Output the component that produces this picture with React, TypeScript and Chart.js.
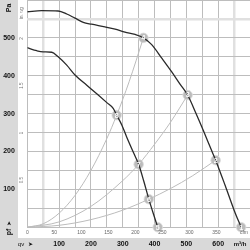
import React, { useEffect, useRef } from "react";
import { Chart, registerables } from "chart.js";
Chart.register(...registerables);

// Axis tick labels
const qTicks = [100, 200, 300, 400, 500, 600]; // m³/h
const paTicks = [100, 200, 300, 400, 500]; // Pa
const cfmTicks = [0, 50, 100, 150, 200, 250, 300, 350]; // cfm
const inwgTicks = [0.5, 1, 1.5, 2]; // in. wg
const CFM_TO_M3H = 1.699;
const INWG_TO_PA = 249.09;

// Fan curves (qv m³/h, pf Pa)
const curve1Q = [0, 45, 97, 124, 150, 176, 202, 244, 276, 307, 339, 365, 391, 422, 454, 480, 504, 530, 553, 580, 592, 622, 650, 672];
const curve1P = [569, 572, 571, 563, 552, 541, 536, 529, 523, 515, 509, 500, 482, 447, 410, 378, 349, 301, 256, 201, 177, 110, 45, 0];
const curve2Q = [0, 30, 50, 77, 97, 124, 150, 187, 223, 250, 270, 281, 297, 312, 328, 344, 350, 366, 382, 396, 410];
const curve2P = [474, 466, 463, 462, 450, 428, 402, 375, 349, 329, 314, 296, 270, 239, 208, 178, 166, 122, 74, 36, 0];

// System (resistance) curves
const sysAQ = [0, 50, 100, 150, 200, 250, 281, 320, 365];
const sysAP = [0, 9, 37, 84, 150, 234, 296, 384, 500];
const sysBQ = [0, 100, 200, 300, 350, 400, 450, 504];
const sysBP = [0, 14, 55, 123, 166, 219, 277, 349];
const sysCQ = [0, 100, 200, 300, 382, 450, 520, 592];
const sysCP = [0, 5, 20, 45, 74, 102, 136, 177];

// Operating points
const markerLabels = ["1", "2", "3", "4", "5", "6", "7", "8"];
const markerQ = [672, 592, 504, 365, 410, 382, 350, 281];
const markerP = [0, 177, 349, 500, 0, 74, 166, 296];

const FONT = "'Liberation Sans', Arial, Helvetica, sans-serif";

const pts = (q: number[], p: number[]) => q.map((v, i) => ({ x: v, y: p[i] }));

const decor = {
  id: "decor",
  beforeDraw(chart: any) {
    const ctx = chart.ctx;
    ctx.save();
    ctx.fillStyle = "#ffffff";
    ctx.fillRect(0, 0, chart.width, chart.height);
    ctx.fillStyle = "#d9d9d9";
    ctx.fillRect(0, 0, 18, 238);
    ctx.fillRect(0, 238, chart.width, chart.height - 238);
    ctx.restore();
  },
  afterDraw(chart: any) {
    const ctx = chart.ctx;
    const xs = chart.scales.x;
    const ys = chart.scales.y;
    ctx.save();
    ctx.textAlign = "center";
    ctx.textBaseline = "middle";
    // left band
    ctx.fillStyle = "#111";
    ctx.font = `bold 7px ${FONT}`;
    paTicks.forEach((v) => ctx.fillText(String(v), 9, ys.getPixelForValue(v)));
    const rot = (t: string, x: number, y: number, font: string, color: string) => {
      ctx.save();
      ctx.translate(x, y);
      ctx.rotate(-Math.PI / 2);
      ctx.font = font;
      ctx.fillStyle = color;
      ctx.fillText(t, 0, 0);
      ctx.restore();
    };
    rot("Pa", 9, 8, `bold 7px ${FONT}`, "#111");
    rot("pf", 9, 232, `bold 7px ${FONT}`, "#111");
    rot("➤", 9, 223, `6px ${FONT}`, "#111");
    // in. wg
    rot("in. wg", 22, 13, `4.5px ${FONT}`, "#777");
    inwgTicks.forEach((v) => rot(String(v), 22, ys.getPixelForValue(v * INWG_TO_PA), `4.5px ${FONT}`, "#777"));
    // cfm
    ctx.font = `5px ${FONT}`;
    ctx.fillStyle = "#666";
    cfmTicks.forEach((v) => ctx.fillText(String(v), xs.getPixelForValue(v * CFM_TO_M3H), 233));
    ctx.fillText("cfm", 244, 233);
    // bottom band
    ctx.fillStyle = "#111";
    ctx.font = `bold 7px ${FONT}`;
    qTicks.forEach((v) => ctx.fillText(String(v), xs.getPixelForValue(v), 244));
    ctx.font = `bold 6px ${FONT}`;
    ctx.fillText("m³/h", 240, 244);
    ctx.font = `6px ${FONT}`;
    ctx.fillText("qv", 21, 244);
    ctx.fillText("➤", 30, 244);
    // marker labels
    ctx.fillStyle = "#ffffff";
    ctx.font = `bold 7px ${FONT}`;
    markerLabels.forEach((t, i) => {
      ctx.fillText(t, xs.getPixelForValue(markerQ[i]), ys.getPixelForValue(markerP[i]) + 0.5);
    });
    ctx.restore();
  },
};

export default function App() {
  const ref = useRef<HTMLCanvasElement>(null);
  useEffect(() => {
    document.body.style.margin = "0";
    const lineDs = (q: number[], p: number[], color: string, w: number) => ({
      type: "line" as const,
      data: pts(q, p),
      borderColor: color,
      borderWidth: w,
      pointRadius: 0,
      cubicInterpolationMode: "monotone" as const,
      fill: false,
    });
    const chart = new Chart(ref.current!, {
      type: "line",
      data: {
        datasets: [
          lineDs(sysAQ, sysAP, "#bcbcbc", 1),
          lineDs(sysBQ, sysBP, "#bcbcbc", 1),
          lineDs(sysCQ, sysCP, "#bcbcbc", 1),
          lineDs(curve1Q, curve1P, "#2a2a2a", 1.3),
          lineDs(curve2Q, curve2P, "#2a2a2a", 1.3),
          {
            type: "scatter" as const,
            data: pts(markerQ, markerP),
            pointRadius: 4.8,
            pointBackgroundColor: "#bcbcbc",
            pointBorderColor: "#dedede",
            pointBorderWidth: 0.8,
            clip: false as any,
          } as any,
        ],
      },
      options: {
        responsive: false,
        devicePixelRatio: 1,
        animation: false,
        events: [],
        layout: { autoPadding: false, padding: { left: 27.3, right: 0, top: 0, bottom: 22.8 } },
        plugins: { legend: { display: false }, tooltip: { enabled: false } },
        scales: {
          x: {
            type: "linear",
            min: 0,
            max: 700,
            ticks: { display: false, stepSize: 50 },
            grid: {
              drawTicks: false,
              color: (c: any) => (c.tick && (c.tick.value === 50 || c.tick.value === 650) ? "#e0e0e0" : "#bdbdbd"),
              lineWidth: (c: any) => (c.tick && (c.tick.value === 50 || c.tick.value === 650) ? 2.5 : 1),
            },
            border: { display: false },
          },
          y: {
            type: "linear",
            min: 0,
            max: 600,
            ticks: { display: false, stepSize: 50 },
            grid: {
              drawTicks: false,
              color: (c: any) => (c.tick && c.tick.value === 550 ? "#e0e0e0" : "#bdbdbd"),
              lineWidth: (c: any) => (c.tick && c.tick.value === 550 ? 2.5 : 1),
            },
            border: { display: false },
          },
        },
      },
      plugins: [decor],
    } as any);
    return () => chart.destroy();
  }, []);
  return (
    <div style={{ width: 250, height: 250 }}>
      <canvas ref={ref} width={250} height={250} style={{ display: "block" }} />
    </div>
  );
}
